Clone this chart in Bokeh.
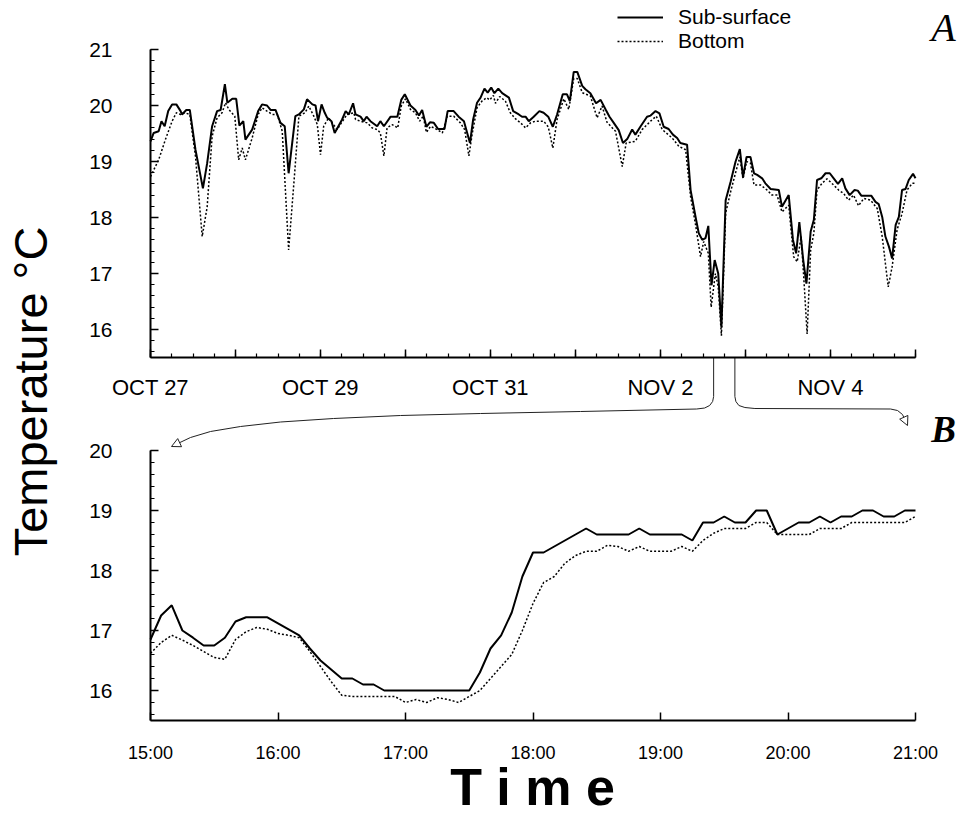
import math
from bokeh.plotting import figure
from bokeh.models import (Range1d, FixedTicker, Label, Arrow, NormalHead, Legend, LegendItem,
                          LinearAxis)
from bokeh.embed import file_html
from bokeh.resources import INLINE

# ---------------- Panel A: Oct 27 - Nov 5 (hours since Oct 27 00:00) ----------------
a_sub_hours = [0.0, 0.9, 2.3, 3.1, 4.0, 5.0, 6.1, 7.3, 8.5, 8.9,
               10.1, 11.1, 12.7, 14.8, 16.0, 17.4, 18.8, 19.8, 21.0, 21.7,
               23.1, 24.2, 25.1, 26.2, 26.8, 28.7, 30.4, 31.5, 32.9, 33.9,
               35.3, 36.7, 37.9, 39.0, 40.9, 41.9, 43.3, 44.2, 45.7, 46.6,
               47.3, 48.3, 49.2, 49.9, 51.1, 52.0, 54.1, 55.1, 56.0, 57.2,
               57.9, 59.3, 60.2, 61.0, 62.1, 64.0, 64.9, 65.9, 67.8, 69.7,
               70.8, 71.8, 73.4, 74.8, 75.8, 76.7, 77.9, 78.9, 80.0, 81.2,
               83.0, 83.9, 85.6, 87.0, 88.5, 90.2, 91.1, 92.2, 93.2, 94.3,
               95.2, 96.2, 97.1, 98.2, 99.3, 101.2, 102.4, 104.0, 104.9, 105.9,
               106.8, 108.2, 109.8, 111.0, 112.3, 113.6, 114.8, 116.4, 117.6, 118.4,
               119.5, 120.5, 121.9, 122.8, 124.2, 125.8, 127.1, 128.5, 129.6, 130.8,
               132.2, 133.4, 134.6, 136.0, 136.9, 138.4, 140.2, 141.2, 142.6, 143.7,
               144.9, 146.3, 147.5, 148.7, 149.6, 151.5, 152.5, 153.9, 154.8, 155.8,
               156.7, 157.5, 158.4, 159.3, 160.3, 161.2, 162.4, 163.8, 165.2, 166.4,
               167.3, 168.3, 169.4, 170.4, 171.3, 172.7, 173.6, 175.1, 177.4, 178.3,
               180.2, 181.4, 182.3, 183.2, 184.3, 185.2, 186.4, 187.3, 188.2, 189.4,
               190.6, 191.8, 192.9, 194.1, 195.3, 196.2, 197.4, 198.8, 199.7, 200.7,
               203.5, 204.7, 205.6, 206.6, 207.5, 208.5, 209.4, 210.4, 211.3, 212.2,
               213.2, 214.1, 215.3, 216.0]
a_sub_temp = [19.36, 19.51, 19.54, 19.72, 19.63, 19.90, 20.02, 20.02, 19.90, 19.84,
              19.92, 19.92, 19.21, 18.52, 18.97, 19.63, 19.90, 19.92, 20.38, 20.05,
              20.12, 20.12, 19.64, 19.72, 19.39, 19.57, 19.90, 20.02, 20.00, 19.92,
              19.92, 19.69, 19.63, 18.79, 19.81, 19.84, 19.93, 20.11, 20.02, 20.00,
              19.72, 20.02, 19.87, 19.78, 19.72, 19.51, 19.75, 19.90, 19.84, 20.04,
              19.84, 19.80, 19.72, 19.80, 19.72, 19.63, 19.72, 19.63, 19.80, 19.80,
              20.10, 20.20, 20.00, 19.92, 19.82, 19.92, 19.62, 19.70, 19.69, 19.58,
              19.58, 19.90, 19.90, 19.80, 19.72, 19.33, 19.75, 20.05, 20.14, 20.30,
              20.23, 20.32, 20.22, 20.30, 20.22, 20.14, 19.90, 19.84, 19.80, 19.80,
              19.72, 19.80, 19.90, 19.87, 19.80, 19.62, 19.84, 20.20, 20.20, 20.08,
              20.60, 20.60, 20.35, 20.29, 20.22, 20.04, 20.10, 19.93, 19.80, 19.69,
              19.56, 19.33, 19.40, 19.57, 19.48, 19.63, 19.80, 19.82, 19.90, 19.86,
              19.62, 19.58, 19.48, 19.42, 19.33, 19.30, 18.49, 18.01, 17.72, 17.60,
              17.63, 17.85, 16.79, 17.24, 17.00, 16.04, 18.31, 18.64, 19.00, 19.22,
              18.72, 19.08, 19.08, 18.79, 18.76, 18.70, 18.61, 18.51, 18.49, 18.19,
              18.40, 17.60, 17.36, 17.92, 17.24, 16.82, 17.75, 17.96, 18.67, 18.70,
              18.79, 18.79, 18.70, 18.60, 18.70, 18.52, 18.40, 18.49, 18.48, 18.39,
              18.39, 18.28, 18.24, 18.01, 17.66, 17.48, 17.27, 17.87, 18.01, 18.49,
              18.51, 18.67, 18.78, 18.70]

a_bot_hours = [0.0, 2.3, 4.2, 6.1, 7.3, 8.5, 9.7, 11.1, 12.7, 14.6,
               16.0, 17.4, 18.8, 20.2, 21.2, 22.1, 23.8, 24.9, 25.9, 26.8,
               28.7, 30.4, 31.5, 32.9, 34.4, 35.8, 37.2, 39.0, 40.7, 41.9,
               43.6, 44.7, 46.1, 47.1, 48.0, 48.9, 50.3, 52.7, 53.6, 55.5,
               57.4, 57.9, 59.3, 61.2, 62.6, 64.0, 64.9, 65.9, 66.8, 68.2,
               69.8, 70.8, 72.0, 73.4, 74.8, 76.0, 77.0, 77.9, 79.1, 80.9,
               82.4, 83.8, 85.6, 87.5, 88.7, 89.9, 90.8, 92.2, 93.6, 94.9,
               95.8, 96.8, 97.4, 98.6, 100.2, 101.6, 103.1, 104.5, 105.9, 107.3,
               108.7, 111.0, 112.3, 113.6, 114.8, 116.7, 118.1, 119.5, 120.5, 121.9,
               124.2, 126.1, 127.5, 128.9, 131.3, 133.2, 134.3, 136.9, 138.8, 141.2,
               142.8, 144.5, 147.3, 149.2, 151.1, 152.5, 153.9, 155.3, 156.2, 157.5,
               158.3, 159.5, 160.3, 161.2, 162.4, 163.8, 165.2, 166.4, 167.3, 168.3,
               169.4, 170.4, 172.3, 174.1, 175.5, 176.9, 178.3, 180.2, 181.6, 182.6,
               183.7, 184.5, 185.4, 186.4, 187.3, 188.2, 189.6, 191.0, 192.4, 194.3,
               195.7, 197.1, 198.5, 199.9, 201.4, 203.3, 205.2, 206.6, 207.5, 208.3,
               209.4, 210.8, 212.2, 213.6, 215.1, 216.0]
a_bot_temp = [18.73, 19.03, 19.39, 19.72, 19.87, 19.84, 19.87, 19.84, 19.09, 17.66,
              18.19, 19.45, 19.78, 19.87, 20.05, 19.93, 19.81, 19.03, 19.24, 19.03,
              19.42, 19.84, 19.96, 19.90, 19.84, 19.84, 19.54, 17.42, 18.79, 19.81,
              19.87, 19.99, 19.81, 19.66, 19.12, 19.63, 19.78, 19.57, 19.66, 19.84,
              19.87, 19.75, 19.72, 19.69, 19.60, 19.57, 19.51, 19.10, 19.60, 19.66,
              19.60, 19.99, 20.12, 19.93, 19.87, 19.72, 19.81, 19.52, 19.63, 19.57,
              19.51, 19.81, 19.81, 19.69, 19.57, 19.10, 19.48, 19.96, 20.08, 20.14,
              20.10, 20.18, 20.04, 20.16, 20.08, 19.87, 19.76, 19.69, 19.60, 19.69,
              19.72, 19.72, 19.62, 19.24, 19.75, 20.12, 19.93, 20.48, 20.48, 20.23,
              20.17, 19.78, 19.99, 19.70, 19.54, 18.91, 19.33, 19.36, 19.57, 19.72,
              19.81, 19.57, 19.42, 19.27, 19.21, 18.37, 17.87, 17.30, 17.57, 17.36,
              16.40, 17.00, 16.76, 15.89, 18.08, 18.46, 18.80, 19.08, 18.69, 19.00,
              18.97, 18.58, 18.58, 18.49, 18.40, 18.40, 18.10, 18.22, 17.30, 17.21,
              17.66, 16.88, 15.92, 17.42, 17.72, 18.49, 18.61, 18.69, 18.61, 18.49,
              18.43, 18.31, 18.40, 18.21, 18.34, 18.31, 18.16, 17.66, 17.18, 16.76,
              17.12, 17.78, 18.07, 18.49, 18.61, 18.61]

a_day_ticks = [0, 24, 48, 72, 96, 120, 144, 168, 192, 216]
a_day_labels = ["OCT 27", "", "OCT 29", "", "OCT 31", "", "NOV 2", "", "NOV 4", ""]
a_temp_ticks = [16, 17, 18, 19, 20, 21]

# ---------------- Panel B: Nov 2, 15:00 - 21:00 ----------------
b_times = ["15:00", "15:05", "15:10", "15:15", "15:20", "15:25", "15:30", "15:35", "15:40", "15:45",
           "15:50", "15:55", "16:00", "16:05", "16:10", "16:15", "16:20", "16:25", "16:30", "16:35",
           "16:40", "16:45", "16:50", "16:55", "17:00", "17:05", "17:10", "17:15", "17:20", "17:25",
           "17:30", "17:35", "17:40", "17:45", "17:50", "17:55", "18:00", "18:05", "18:10", "18:15",
           "18:20", "18:25", "18:30", "18:35", "18:40", "18:45", "18:50", "18:55", "19:00", "19:05",
           "19:10", "19:15", "19:20", "19:25", "19:30", "19:35", "19:40", "19:45", "19:50", "19:55",
           "20:00", "20:05", "20:10", "20:15", "20:20", "20:25", "20:30", "20:35", "20:40", "20:45",
           "20:50", "20:55", "21:00"]
b_sub_temp = [16.85, 17.25, 17.42, 17.00, 16.88, 16.75, 16.75, 16.88, 17.15, 17.22,
              17.22, 17.22, 17.12, 17.02, 16.92, 16.70, 16.50, 16.35, 16.20, 16.20,
              16.10, 16.10, 16.00, 16.00, 16.00, 16.00, 16.00, 16.00, 16.00, 16.00,
              16.00, 16.30, 16.70, 16.92, 17.30, 17.90, 18.30, 18.30, 18.40, 18.50,
              18.60, 18.70, 18.60, 18.60, 18.60, 18.60, 18.70, 18.60, 18.60, 18.60,
              18.60, 18.50, 18.80, 18.80, 18.90, 18.80, 18.80, 19.00, 19.00, 18.60,
              18.70, 18.80, 18.80, 18.90, 18.80, 18.90, 18.90, 19.00, 19.00, 18.90,
              18.90, 19.00, 19.00]
b_bot_temp = [16.62, 16.80, 16.92, 16.84, 16.75, 16.65, 16.55, 16.52, 16.85, 16.98,
              17.05, 17.02, 16.95, 16.92, 16.88, 16.65, 16.40, 16.15, 15.92, 15.90,
              15.90, 15.90, 15.90, 15.90, 15.80, 15.85, 15.80, 15.88, 15.85, 15.80,
              15.90, 16.00, 16.20, 16.40, 16.60, 17.00, 17.45, 17.80, 17.90, 18.12,
              18.25, 18.32, 18.32, 18.42, 18.40, 18.32, 18.40, 18.32, 18.32, 18.32,
              18.40, 18.32, 18.50, 18.62, 18.70, 18.70, 18.70, 18.80, 18.80, 18.60,
              18.60, 18.60, 18.60, 18.70, 18.70, 18.70, 18.80, 18.80, 18.80, 18.80,
              18.80, 18.80, 18.90]
b_hour_ticks = [15, 16, 17, 18, 19, 20, 21]
b_hour_labels = ["15:00", "16:00", "17:00", "18:00", "19:00", "20:00", "21:00"]
b_temp_ticks = [16, 17, 18, 19, 20]

# the detail window sits on Nov 2 (day 6 of panel A)
zoom_day = 6

# ---------------- page geometry (pixels) ----------------
W, H = 963, 827
FX0, FX1 = 150, 915          # left/right end of both time axes
A_Y0, A_Y1 = 49, 357         # top/bottom of panel A's temperature axis
B_Y0, B_Y1 = 450, 720        # top/bottom of panel B's temperature axis
A_XR, A_YR = (0, 216), (15.5, 21.0)
B_XR, B_YR = (15, 21), (15.5, 20.0)

SANS = "Liberation Sans"
SERIF = "Liberation Serif"
INK = "black"


def x_span(d0, d1):
    """Range covering the whole page width, with d0..d1 landing on FX0..FX1."""
    k = (d1 - d0) / (FX1 - FX0)
    return Range1d(d0 - FX0 * k, d0 + (W - FX0) * k)


def y_span(d_lo, d_hi, top, bottom):
    """Range covering the whole page height, with d_hi at pixel row top and d_lo at bottom."""
    k = (d_hi - d_lo) / (bottom - top)
    return Range1d(d_lo - (H - bottom) * k, d_hi + top * k)


def page_to_b(px, py):
    x = B_XR[0] + (px - FX0) / (FX1 - FX0) * (B_XR[1] - B_XR[0])
    y = B_YR[1] - (py - B_Y0) / (B_Y1 - B_Y0) * (B_YR[1] - B_YR[0])
    return x, y


def page_to_a(px, py):
    x = A_XR[0] + (px - FX0) / (FX1 - FX0) * (A_XR[1] - A_XR[0])
    y = A_YR[1] - (py - A_Y0) / (A_Y1 - A_Y0) * (A_YR[1] - A_YR[0])
    return x, y


def a_to_page(h, t):
    px = FX0 + (h - A_XR[0]) / (A_XR[1] - A_XR[0]) * (FX1 - FX0)
    py = A_Y0 + (A_YR[1] - t) / (A_YR[1] - A_YR[0]) * (A_Y1 - A_Y0)
    return px, py


def style_axis(ax, font, size):
    ax.axis_line_color = INK
    ax.axis_line_width = 2
    ax.major_tick_in = 8
    ax.major_tick_out = 0
    ax.minor_tick_in = 4
    ax.minor_tick_out = 0
    ax.major_tick_line_width = 1.5
    ax.minor_tick_line_width = 1.2
    ax.major_tick_line_color = INK
    ax.minor_tick_line_color = INK
    ax.major_label_text_color = INK
    ax.major_label_text_font = font
    ax.major_label_text_font_size = size


# one canvas holds both panels; panel B uses the default ranges, panel A the extra ones
p = figure(width=W, height=H, x_range=x_span(*B_XR), y_range=y_span(*B_YR, B_Y0, B_Y1),
           x_axis_location=None, y_axis_location=None,
           output_backend="svg", toolbar_location=None, min_border=0)
p.extra_x_ranges = {"ax": x_span(*A_XR)}
p.extra_y_ranges = {"ay": y_span(*A_YR, A_Y0, A_Y1)}
p.grid.visible = False
p.outline_line_color = None

# ---- panel A axes
a_yaxis = LinearAxis(x_range_name="ax", y_range_name="ay", fixed_location=A_XR[0], bounds=A_YR,
                     ticker=FixedTicker(ticks=a_temp_ticks,
                                        minor_ticks=[round(15.6 + 0.2 * i, 1) for i in range(28)]))
style_axis(a_yaxis, SANS, "21px")
a_yaxis.major_label_standoff = 38
p.add_layout(a_yaxis, "left")

a_xaxis = LinearAxis(x_range_name="ax", y_range_name="ay", fixed_location=A_YR[0], bounds=A_XR,
                     ticker=FixedTicker(ticks=a_day_ticks, minor_ticks=list(range(0, 217, 6))))
a_xaxis.major_label_overrides = dict(zip(a_day_ticks, a_day_labels))
style_axis(a_xaxis, SANS, "22px")
a_xaxis.major_label_standoff = 17
p.add_layout(a_xaxis, "below")

# ---- panel B axes
b_yaxis = LinearAxis(fixed_location=B_XR[0], bounds=B_YR,
                     ticker=FixedTicker(ticks=b_temp_ticks,
                                        minor_ticks=[round(15.6 + 0.2 * i, 1) for i in range(23)]))
style_axis(b_yaxis, SANS, "21px")
b_yaxis.major_label_standoff = 38
p.add_layout(b_yaxis, "left")

b_xaxis = LinearAxis(fixed_location=B_YR[0], bounds=B_XR,
                     ticker=FixedTicker(ticks=b_hour_ticks, minor_ticks=[]))
b_xaxis.major_label_overrides = dict(zip(b_hour_ticks, b_hour_labels))
style_axis(b_xaxis, SANS, "18px")
b_xaxis.major_label_standoff = 22
p.add_layout(b_xaxis, "below")

# ---- data
ra_sub = p.line(a_sub_hours, a_sub_temp, x_range_name="ax", y_range_name="ay",
                line_color=INK, line_width=2)
ra_bot = p.line(a_bot_hours, a_bot_temp, x_range_name="ax", y_range_name="ay",
                line_color=INK, line_width=1.5, line_dash="2 2")

b_hours = [int(t[:2]) + int(t[3:]) / 60 for t in b_times]
p.line(b_hours, b_sub_temp, line_color=INK, line_width=2)
p.line(b_hours, b_bot_temp, line_color=INK, line_width=1.5, line_dash="2 2")

# ---- legend
legend = Legend(items=[LegendItem(label="Sub-surface", renderers=[ra_sub]),
                       LegendItem(label="Bottom", renderers=[ra_bot])],
                location=(617, H - 53), glyph_width=46, glyph_height=20,
                label_standoff=15, padding=0, margin=0, spacing=0, label_height=20,
                label_text_font=SANS, label_text_font_size="21px", label_text_color=INK,
                background_fill_alpha=0, border_line_alpha=0)
p.add_layout(legend)


# ---- panel letters and titles (baselines given in page rows, corrected for the
#      renderer placing "alphabetic" text ~0.37 em lower)
def baseline_row(row, size):
    return row - 0.37 * size


ax_, ay_ = page_to_a(943, baseline_row(42, 40))
p.add_layout(Label(x=ax_, y=ay_, x_range_name="ax", y_range_name="ay", text="A",
                   text_align="center", text_baseline="alphabetic", text_color=INK,
                   text_font=SERIF, text_font_style="italic", text_font_size="40px"))
bx_, by_ = page_to_b(943, baseline_row(443, 37))
p.add_layout(Label(x=bx_, y=by_, text="B", text_align="center", text_baseline="alphabetic",
                   text_color=INK, text_font=SERIF, text_font_style="bold italic",
                   text_font_size="37px"))
tx_, ty_ = page_to_b(532, baseline_row(806, 52))
p.add_layout(Label(x=tx_, y=ty_, text="T i m e", text_align="center", text_baseline="alphabetic",
                   text_color=INK, text_font=SANS, text_font_style="bold", text_font_size="52px"))
lx_, ly_ = page_to_b(30, 391)
p.add_layout(Label(x=lx_, y=ly_, text="Temperature °C", angle=math.pi / 2,
                   text_align="center", text_baseline="middle", text_color=INK,
                   text_font=SANS, text_font_size="47px"))

# ---- connectors from the Nov 2 15:00-21:00 window down to panel B
xl, yl = a_to_page(zoom_day * 24 + B_XR[0], A_YR[0])
xr, yr = a_to_page(zoom_day * 24 + B_XR[1], A_YR[0])
left_path = [(xl, yl), (xl, 396), (xl - 1, 401), (xl - 4, 405),
             (xl - 9, 407.5), (xl - 17, 408.5), (580, 411), (480, 413), (400, 415), (333, 418),
             (280, 421.5), (240, 426), (210, 431), (190, 437), (171, 446)]
right_path = [(xr, yr), (xr, 396), (xr + 1, 401), (xr + 4, 405),
              (xr + 10, 407), (xr + 20, 408), (890, 408.5), (897, 410), (902, 414), (907, 425)]
for path in (left_path, right_path):
    pts = [page_to_b(*pt) for pt in path]
    p.line([q[0] for q in pts[:-1]], [q[1] for q in pts[:-1]], line_color="#222222", line_width=1)
    (x0, y0), (x1, y1) = pts[-2], pts[-1]
    p.add_layout(Arrow(x_start=x0, y_start=y0, x_end=x1, y_end=y1, start=None,
                       end=NormalHead(size=9, fill_color="white", line_color="#222222", line_width=1),
                       line_color="#222222", line_width=1))

open("out.html", "w").write(file_html(p, INLINE))
